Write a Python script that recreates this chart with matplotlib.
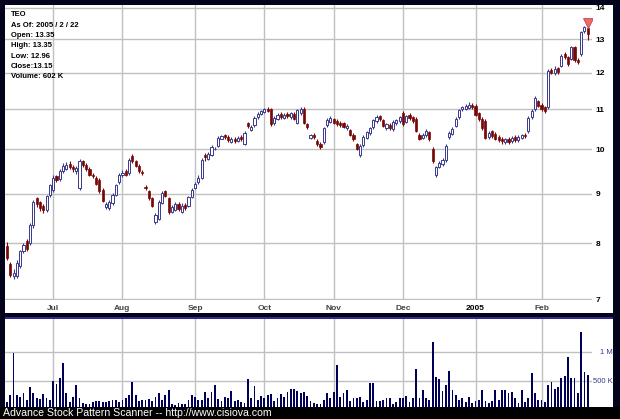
import matplotlib
matplotlib.use('Agg')
import matplotlib.pyplot as plt
from matplotlib.patches import Rectangle
from matplotlib.ticker import NullLocator
import numpy as np

# daily OHLC, mid June 2004 -> 2005/2/22
opens = [7.95, 7.62, 7.40, 7.40, 7.58, 7.85, 8.05, 8.00, 8.35, 8.90,
         8.82, 8.75, 8.66, 8.98, 9.08, 9.38, 9.32, 9.50, 9.55, 9.66,
         9.60, 9.50, 9.12, 9.72, 9.64, 9.55, 9.42, 9.35, 9.30, 9.08,
         8.72, 8.70, 8.80, 8.98, 9.25, 9.40, 9.50, 9.45, 9.85, 9.72,
         9.62, 9.48, 9.15, 9.05, 8.90, 8.42, 8.48, 8.80, 9.05, 8.90,
         8.62, 8.66, 8.78, 8.62, 8.76, 8.75, 8.94, 9.12, 9.25, 9.35,
         9.88, 9.78, 9.88, 10.00, 10.08, 10.26, 10.34, 10.30, 10.18, 10.26,
         10.20, 10.30, 10.12, 10.65, 10.48, 10.60, 10.80, 10.88, 10.92, 11.02,
         11.00, 10.65, 10.76, 10.88, 10.78, 10.88, 10.80, 10.88, 10.65, 10.90,
         11.02, 10.62, 10.28, 10.36, 10.20, 10.14, 10.18, 10.60, 10.68, 10.74,
         10.70, 10.66, 10.64, 10.52, 10.48, 10.36, 10.12, 9.88, 10.10, 10.28,
         10.40, 10.55, 10.70, 10.82, 10.72, 10.52, 10.60, 10.50, 10.64, 10.70,
         10.90, 10.68, 10.85, 10.80, 10.76, 10.36, 10.28, 10.35, 10.42, 10.02,
         9.40, 9.60, 9.66, 9.75, 10.30, 10.38, 10.58, 10.80, 11.00, 11.00,
         11.04, 11.12, 11.10, 10.90, 10.76, 10.70, 10.30, 10.45, 10.38, 10.30,
         10.26, 10.18, 10.26, 10.20, 10.30, 10.22, 10.28, 10.36, 10.45, 10.80,
         11.00, 11.22, 11.12, 11.05, 11.05, 12.08, 12.00, 12.15, 12.20, 12.55,
         12.45, 12.40, 12.75, 12.36, 12.55, 13.25, 13.35]
highs = [8.02, 7.66, 7.52, 7.68, 7.88, 8.00, 8.08, 8.40, 8.86, 8.93,
         8.85, 8.78, 8.98, 9.22, 9.40, 9.42, 9.55, 9.68, 9.70, 9.72,
         9.64, 9.62, 9.78, 9.76, 9.68, 9.58, 9.46, 9.38, 9.34, 9.12,
         8.82, 8.86, 9.02, 9.22, 9.46, 9.52, 9.54, 9.80, 9.90, 9.76,
         9.65, 9.52, 9.18, 9.08, 8.94, 8.60, 8.86, 9.06, 9.08, 8.94,
         8.76, 8.82, 8.82, 8.80, 8.80, 8.95, 9.12, 9.25, 9.40, 9.80,
         9.92, 9.95, 10.10, 10.06, 10.32, 10.36, 10.38, 10.34, 10.30, 10.30,
         10.32, 10.34, 10.45, 10.68, 10.60, 10.82, 10.92, 10.98, 11.04, 11.06,
         11.04, 10.82, 10.90, 10.92, 10.90, 10.92, 10.94, 10.92, 11.02, 11.06,
         11.05, 10.66, 10.38, 10.40, 10.24, 10.18, 10.56, 10.78, 10.84, 10.78,
         10.74, 10.70, 10.68, 10.62, 10.50, 10.40, 10.15, 10.12, 10.34, 10.46,
         10.56, 10.76, 10.86, 10.86, 10.76, 10.66, 10.64, 10.72, 10.76, 10.84,
         10.95, 10.86, 10.90, 10.84, 10.80, 10.40, 10.40, 10.50, 10.46, 10.05,
         9.62, 9.74, 9.80, 10.12, 10.44, 10.55, 10.80, 11.02, 11.10, 11.14,
         11.20, 11.18, 11.14, 10.94, 10.80, 10.74, 10.45, 10.48, 10.42, 10.34,
         10.30, 10.28, 10.30, 10.32, 10.34, 10.35, 10.38, 10.40, 10.82, 11.00,
         11.35, 11.25, 11.16, 11.08, 12.10, 12.15, 12.20, 12.18, 12.56, 12.62,
         12.50, 12.80, 12.80, 12.42, 13.26, 13.42, 13.35]
lows = [7.68, 7.38, 7.34, 7.36, 7.54, 7.82, 7.86, 7.96, 8.30, 8.72,
        8.64, 8.60, 8.62, 8.94, 9.04, 9.26, 9.28, 9.46, 9.52, 9.54,
        9.48, 9.44, 9.08, 9.60, 9.50, 9.38, 9.34, 9.18, 9.02, 8.82,
        8.68, 8.66, 8.76, 8.95, 9.22, 9.36, 9.38, 9.42, 9.68, 9.58,
        9.46, 9.42, 9.08, 8.86, 8.72, 8.38, 8.46, 8.78, 8.92, 8.58,
        8.60, 8.64, 8.64, 8.60, 8.66, 8.72, 8.90, 9.10, 9.22, 9.32,
        9.72, 9.75, 9.85, 9.98, 10.05, 10.24, 10.26, 10.18, 10.15, 10.16,
        10.18, 10.20, 10.10, 10.52, 10.45, 10.56, 10.76, 10.85, 10.90, 10.92,
        10.58, 10.60, 10.72, 10.76, 10.74, 10.78, 10.76, 10.72, 10.62, 10.86,
        10.62, 10.50, 10.24, 10.26, 10.08, 10.00, 10.14, 10.56, 10.64, 10.62,
        10.58, 10.56, 10.52, 10.48, 10.32, 10.20, 9.98, 9.82, 10.06, 10.24,
        10.36, 10.50, 10.66, 10.70, 10.54, 10.48, 10.48, 10.46, 10.60, 10.66,
        10.58, 10.64, 10.72, 10.66, 10.42, 10.22, 10.24, 10.30, 10.20, 9.68,
        9.36, 9.56, 9.62, 9.70, 10.26, 10.34, 10.54, 10.76, 10.96, 10.98,
        11.00, 11.00, 10.82, 10.70, 10.48, 10.24, 10.26, 10.28, 10.22, 10.18,
        10.14, 10.14, 10.12, 10.16, 10.18, 10.18, 10.24, 10.28, 10.40, 10.76,
        10.96, 11.06, 10.96, 10.90, 11.00, 11.96, 11.95, 11.98, 12.16, 12.40,
        12.20, 12.36, 12.32, 12.24, 12.50, 13.20, 12.96]
closes = [7.72, 7.42, 7.45, 7.64, 7.85, 7.97, 7.90, 8.35, 8.82, 8.78,
          8.70, 8.66, 8.95, 9.18, 9.35, 9.30, 9.50, 9.62, 9.64, 9.58,
          9.54, 9.56, 9.74, 9.64, 9.55, 9.42, 9.38, 9.22, 9.05, 8.85,
          8.78, 8.82, 8.98, 9.18, 9.42, 9.46, 9.42, 9.75, 9.72, 9.62,
          9.50, 9.46, 9.12, 8.90, 8.75, 8.55, 8.82, 9.02, 8.96, 8.62,
          8.72, 8.78, 8.68, 8.75, 8.70, 8.92, 9.08, 9.22, 9.35, 9.75,
          9.82, 9.90, 10.05, 10.02, 10.28, 10.32, 10.30, 10.22, 10.25, 10.20,
          10.28, 10.24, 10.40, 10.58, 10.55, 10.78, 10.88, 10.95, 11.00, 10.96,
          10.62, 10.78, 10.85, 10.80, 10.86, 10.82, 10.90, 10.76, 10.98, 11.00,
          10.66, 10.55, 10.34, 10.30, 10.12, 10.05, 10.52, 10.72, 10.78, 10.66,
          10.62, 10.60, 10.56, 10.58, 10.35, 10.25, 10.02, 10.08, 10.30, 10.42,
          10.52, 10.72, 10.80, 10.75, 10.58, 10.62, 10.52, 10.68, 10.72, 10.80,
          10.62, 10.82, 10.78, 10.70, 10.45, 10.26, 10.36, 10.45, 10.25, 9.72,
          9.58, 9.68, 9.75, 10.08, 10.40, 10.50, 10.75, 10.98, 11.05, 11.08,
          11.12, 11.05, 10.86, 10.75, 10.52, 10.28, 10.40, 10.32, 10.26, 10.22,
          10.20, 10.24, 10.18, 10.28, 10.22, 10.30, 10.34, 10.32, 10.78, 10.95,
          11.30, 11.10, 11.00, 10.95, 12.05, 12.00, 12.10, 12.02, 12.50, 12.45,
          12.25, 12.75, 12.38, 12.30, 13.22, 13.38, 13.15]
# volume in thousands
volumes = [143, 260, 980, 260, 225, 290, 170, 400, 290, 200,
           190, 275, 200, 170, 500, 450, 550, 810, 290, 140,
           225, 430, 200, 120, 110, 100, 130, 150, 160, 130,
           140, 150, 170, 170, 140, 180, 210, 260, 480, 260,
           160, 165, 170, 185, 160, 220, 290, 175, 260, 350,
           100, 90, 120, 100, 110, 170, 260, 230, 170, 180,
           310, 200, 310, 430, 190, 160, 230, 200, 320, 160,
           180, 140, 120, 530, 200, 410, 170, 240, 200, 260,
           280, 160, 210, 280, 230, 310, 360, 370, 330, 285,
           310, 250, 160, 125, 110, 100, 170, 290, 200, 310,
           770, 230, 290, 350, 160, 210, 200, 230, 140, 170,
           460, 470, 160, 160, 175, 210, 210, 110, 130, 200,
           210, 240, 145, 210, 700, 210, 340, 210, 170, 1180,
           575, 540, 330, 430, 670, 350, 260, 170, 210, 140,
           230, 115, 160, 170, 345, 160, 115, 160, 340, 180,
           340, 345, 290, 310, 200, 115, 340, 140, 200, 640,
           290, 180, 175, 140, 430, 480, 370, 400, 550, 590,
           910, 550, 560, 290, 1350, 650, 602]

month_idx = [14, 35, 57, 78, 99, 120, 142, 162]
month_labels = ['Jul', 'Aug', 'Sep', 'Oct', 'Nov', 'Dec', '2005', 'Feb']
price_ticks = [7, 8, 9, 10, 11, 12, 13, 14]
vol_ticks = [500, 1000]
vol_labels = ['500 K', '1 M']
info_lines = ['TEO', 'As Of: 2005 / 2 / 22', 'Open: 13.35', 'High: 13.35',
              'Low: 12.96', 'Close:13.15', 'Volume: 602 K']

plt.rcParams['font.family'] = ['Liberation Sans', 'DejaVu Sans']

W, H = 620.0, 419.0
def fx(px):
    return px / W
def fy(py):
    return 1 - py / H

fig = plt.figure(figsize=(6.2, 4.19), dpi=100)
fig.patch.set_facecolor('#03031c')

# white panels + separator
fig.patches.append(Rectangle((fx(5), fy(313)), 608 / W, 308 / H, transform=fig.transFigure,
                             facecolor='white', edgecolor='none', zorder=-2))
fig.patches.append(Rectangle((fx(5), fy(407)), 608 / W, 89 / H, transform=fig.transFigure,
                             facecolor='white', edgecolor='none', zorder=-2))
fig.patches.append(Rectangle((fx(5), fy(319)), 608 / W, 2 / H, transform=fig.transFigure,
                             facecolor='#2c2c8c', edgecolor='none', zorder=-1))

idx = np.arange(len(closes))
o = np.array(opens)
h = np.array(highs)
l = np.array(lows)
c = np.array(closes)
up = c >= o

grid_col = '#c0c0c0'
up_col = '#3a3a8e'
dn_col = '#760808'

ax = fig.add_axes([fx(5), fy(300), 587 / W, 295 / H])
ax.set_facecolor('none')
ax.set_yscale('log')
ax.set_xlim(-0.6, 177.3)
ax.set_ylim(6.99, 14.1)
for s in ax.spines.values():
    s.set_visible(False)
ax.set_axisbelow(True)
ax.grid(True, color=grid_col, lw=1.0)

ax.vlines(idx[up], l[up], h[up], color=up_col, lw=0.8, zorder=2)
ax.vlines(idx[~up], l[~up], h[~up], color=dn_col, lw=0.8, zorder=2)
ax.bar(idx[up], np.maximum(c - o, 0.01)[up], bottom=o[up], width=0.65,
       facecolor='white', edgecolor=up_col, lw=0.7, zorder=3)
ax.bar(idx[~up], (o - c)[~up], bottom=c[~up], width=0.65,
       facecolor=dn_col, edgecolor=dn_col, lw=0.5, zorder=3)

# signal marker on last bar
ax.plot(idx[-1], 13.52, marker='v', ms=7, mfc='#f06a6a', mec='#c04848', mew=0.6, zorder=5)

ax.set_yticks(price_ticks, labels=[str(t) for t in price_ticks])
ax.yaxis.set_minor_locator(NullLocator())
ax.yaxis.tick_right()
ax.tick_params(axis='y', length=0, pad=2.5, labelsize=6, labelcolor='black')
for t in ax.get_yticklabels():
    t.set_fontweight('bold')
ax.set_xticks(month_idx, labels=month_labels)
ax.tick_params(axis='x', length=0, pad=3.5, labelsize=6, labelcolor='#444444')
for t in ax.get_xticklabels():
    t.set_fontweight('bold')
    if t.get_text() == '2005':
        t.set_color('black')

for k, line in enumerate(info_lines):
    fig.text(fx(11), fy(15 + 10.3 * k), line, fontsize=5.5, fontweight='bold',
             va='center', ha='left', color='black')

av = fig.add_axes([fx(5), fy(407), 587 / W, 88 / H])
av.set_facecolor('none')
av.bar(idx, volumes, width=0.55, color='#000058', zorder=3)
av.set_xlim(-0.6, 177.3)
av.set_ylim(52, 1569)
for s in av.spines.values():
    s.set_visible(False)
av.set_axisbelow(True)
av.set_xticks(month_idx, labels=[])
av.set_yticks(vol_ticks, labels=[])
av.tick_params(length=0)
av.grid(True, color=grid_col, lw=1.0)
for v, lab in zip(vol_ticks, vol_labels):
    av.text(fx(613), v, lab, transform=matplotlib.transforms.blended_transform_factory(fig.transFigure, av.transData),
            ha='right', va='center', fontsize=5.5, color='#3a3a8e', zorder=4)

# footer
fig.patches.append(Rectangle((0, 0), 1, 12 / H, transform=fig.transFigure,
                             facecolor='black', edgecolor='none', zorder=5))
fig.text(fx(3), fy(412.5), 'Advance Stock Pattern Scanner -- http://www.cisiova.com',
         color='white', fontsize=7.6, va='center', ha='left', zorder=6)

fig.savefig('out.png', dpi=100, facecolor=fig.get_facecolor())
